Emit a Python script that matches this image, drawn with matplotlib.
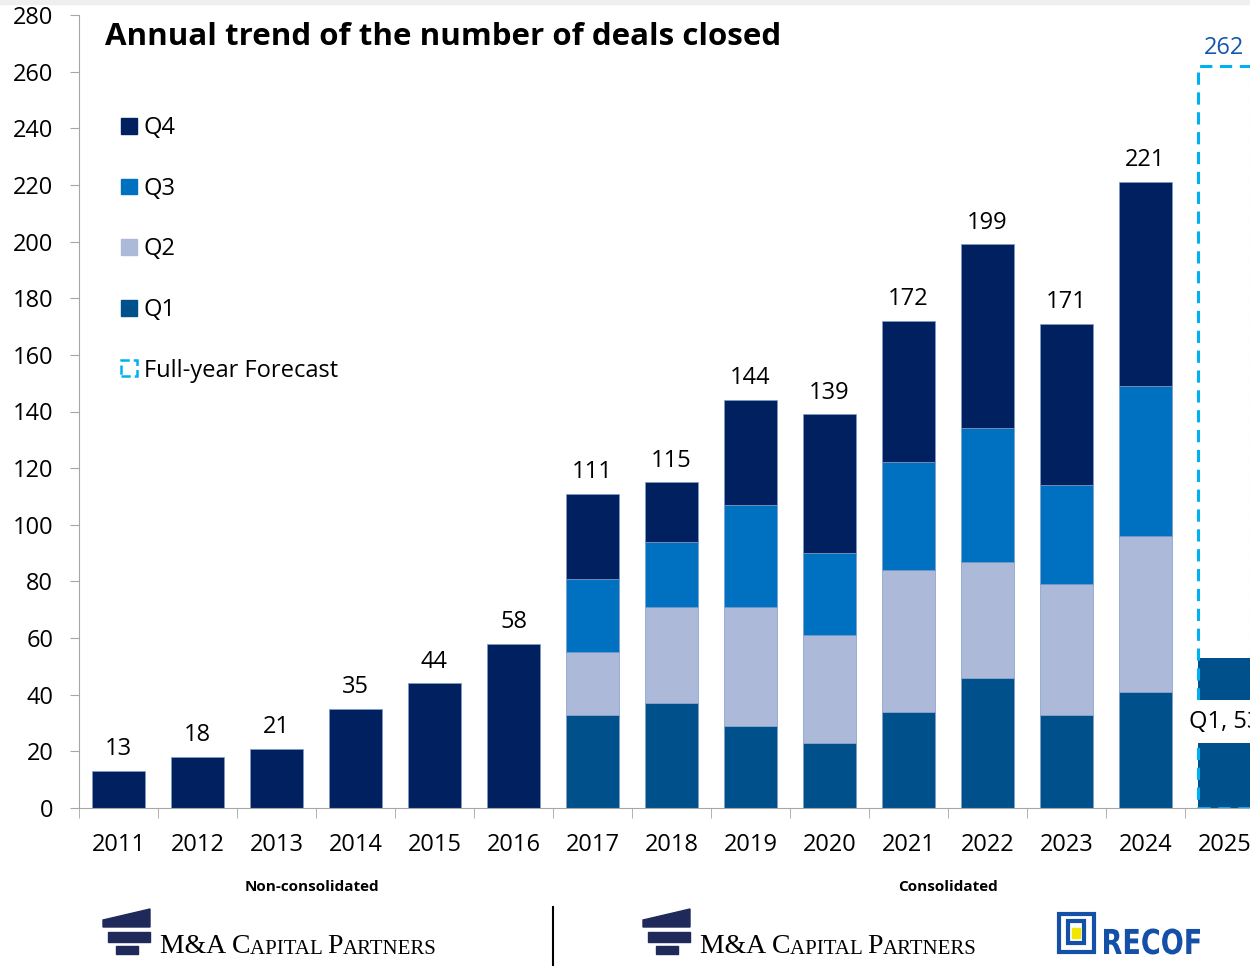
import numpy as np
import matplotlib
matplotlib.use('Agg')
from matplotlib import pyplot as plt
from matplotlib.patches import Rectangle, Polygon, Patch, PathPatch
from matplotlib.textpath import TextPath
from matplotlib.font_manager import FontProperties
from matplotlib.transforms import Affine2D, IdentityTransform

plt.rcParams['font.family'] = ['Open Sans', 'DejaVu Sans']

# data
years = ['2011', '2012', '2013', '2014', '2015', '2016', '2017', '2018',
         '2019', '2020', '2021', '2022', '2023', '2024', '2025']
totals_early = [13, 18, 21, 35, 44, 58]          # non-consolidated, total only
q1 = [33, 37, 29, 23, 34, 46, 33, 41, 53]       # 2017..2025
q2 = [22, 34, 42, 38, 50, 41, 46, 55]           # 2017..2024
q3 = [26, 23, 36, 29, 38, 47, 35, 53]
q4 = [30, 21, 37, 49, 50, 65, 57, 72]
totals_late = [111, 115, 144, 139, 172, 199, 171, 221]
forecast_2025 = 262

c_q4 = '#00205F'
c_q3 = '#0070C0'
c_q2 = '#ADB9D8'
c_q1 = '#00508C'
c_fc = '#00B0F0'
edge = '#7F9CC8'

fig = plt.figure(figsize=(12.5, 9.66), dpi=100)
ax = fig.add_axes([79/1250, 158/966, 1185/1250, 793/966])

x = np.arange(len(years))
w = 0.67
x_early = x[:6]
x_late = x[6:14]
x_2025 = x[14]

ax.bar(x_early, totals_early, w, color=c_q4, edgecolor=edge, linewidth=0.5)
b = np.zeros(len(x_late))
for vals, col in [(q1[:8], c_q1), (q2, c_q2), (q3, c_q3), (q4, c_q4)]:
    ax.bar(x_late, vals, w, bottom=b, color=col, edgecolor=edge, linewidth=0.5)
    b = b + np.array(vals)

# 2025: Q1 actual + forecast box
ax.bar(x_2025, q1[8], w, color=c_q1, edgecolor='none', zorder=2)
ax.bar(x_2025, forecast_2025, w, fill=False, edgecolor=c_fc, linewidth=2.2,
       linestyle=(0, (4, 2.5)), zorder=3)

# labels
for xi, v in zip(list(x_early) + list(x_late), totals_early + totals_late):
    ax.annotate(str(v), (xi, v), xytext=(0, 7), textcoords='offset points',
                ha='center', va='bottom', fontsize=17, color='black')
ax.annotate(str(forecast_2025), (x_2025, forecast_2025), xytext=(0, 4),
            textcoords='offset points', ha='center', va='bottom',
            fontsize=17, color='#1456AE')
ax.text(x_2025, 30.5, 'Q1, 53', ha='center', va='center', fontsize=17,
        color='black', zorder=5,
        bbox=dict(boxstyle='square,pad=0.4', fc='white', ec='none'))

# axes styling
ax.set_xlim(-0.5, len(years) - 0.5)
ax.set_ylim(0, 280)
ax.set_yticks(np.arange(0, 281, 20))
ax.set_xticks(x)
ax.set_xticklabels(years)
ax.set_xticks(np.arange(-0.5, len(years), 1), minor=True)
ax.tick_params(axis='x', which='major', length=0, pad=18, labelsize=17)
ax.tick_params(axis='x', which='minor', length=7, color='#A6A6A6')
ax.tick_params(axis='y', length=6.5, color='#A6A6A6', labelsize=17, pad=12)
for s in ['top', 'right']:
    ax.spines[s].set_visible(False)
ax.spines['left'].set_color('#A6A6A6')
ax.spines['bottom'].set_color('#A6A6A6')

ax.text(0.022, 0.972, 'Annual trend of the number of deals closed',
        transform=ax.transAxes, fontsize=22.5, fontweight='bold', va='center')

handles = [Patch(color=c_q4, label='Q4'), Patch(color=c_q3, label='Q3'),
           Patch(color=c_q2, label='Q2'), Patch(color=c_q1, label='Q1'),
           Patch(fill=False, edgecolor=c_fc, linestyle='--', linewidth=1.8,
                 label='Full-year Forecast')]
ax.legend(handles=handles, loc='upper left', bbox_to_anchor=(100/1250, 1 - 95/966),
          bbox_transform=fig.transFigure, frameon=False, fontsize=17,
          handlelength=0.65, handleheight=0.65, handletextpad=0.3,
          labelspacing=1.55)

# top grey strip
fig.patches.append(Rectangle((0, 1 - 4/966), 1, 4/966, transform=fig.transFigure,
                             color='#EFEFEF', zorder=0))

# footer
fig.text(312/1250, 1 - 887/966, 'Non-consolidated', ha='center', va='center',
         fontsize=11, fontweight='bold')
fig.text(948/1250, 1 - 887/966, 'Consolidated', ha='center', va='center',
         fontsize=11, fontweight='bold')
fig.add_artist(plt.Line2D([553/1250, 553/1250], [0, 1 - 907/966],
                          transform=fig.transFigure, color='black', lw=1.5))


def px(xp, yp):
    return (xp/1250, 1 - yp/966)


def stretched_text(s, x0, y_base, width, height, color, weight='normal',
                   family='DejaVu Sans'):
    # draw text squeezed into a given pixel box (x0, baseline y in pixels from top)
    tp = TextPath((0, 0), s, size=100, prop=FontProperties(family=family, weight=weight))
    bb = tp.get_extents()
    sx = width / bb.width
    sy = height / bb.height
    tr = Affine2D().translate(-bb.x0, 0).scale(sx, sy).translate(x0, 966 - y_base)
    fig.patches.append(PathPatch(tr.transform_path(tp), transform=IdentityTransform(),
                                 color=color, lw=0))


def mac_text(x0):
    # small caps imitation
    parts = [('M&A ', 20), ('C', 20), ('APITAL ', 15), ('P', 20), ('ARTNERS', 15)]
    t = None
    for s, fs in parts:
        if t is None:
            t = fig.text(x0/1250, 1 - 953/966, s, fontsize=fs,
                         family='Liberation Serif', va='baseline', ha='left')
        else:
            t = ax.annotate(s, xy=(1, 0), xycoords=t, xytext=(0, 0),
                            textcoords='offset points', fontsize=fs,
                            family='Liberation Serif', va='bottom', ha='left',
                            annotation_clip=False)


def mac_icon(x0):
    navy = '#1F2A5A'
    fig.patches.append(Polygon([px(x0, 920), px(x0 + 47, 909), px(x0 + 47, 927),
                                px(x0, 927)], closed=True, transform=fig.transFigure,
                               color=navy))
    fig.patches.append(Rectangle(px(x0 + 5, 942), 42/1250, 10/966,
                                 transform=fig.transFigure, color=navy))
    fig.patches.append(Rectangle(px(x0 + 13, 954), 22/1250, 8/966,
                                 transform=fig.transFigure, color=navy))


mac_icon(103)
mac_text(160)
mac_icon(643)
mac_text(700)

# RECOF logo
rb = '#1550A8'
fig.patches.append(Rectangle(px(1059, 952), 35/1250, 38/966, transform=fig.transFigure,
                             fill=False, edgecolor=rb, linewidth=3))
fig.patches.append(Rectangle(px(1068, 943), 16/1250, 22/966, transform=fig.transFigure,
                             fill=False, edgecolor=rb, linewidth=3))
fig.patches.append(Rectangle(px(1072, 938), 8/1250, 10/966, transform=fig.transFigure,
                             color='#F2E600'))
stretched_text('RECOF', 1104, 954, 96, 26, rb, weight='bold')

fig.savefig('out.png', dpi=100)
